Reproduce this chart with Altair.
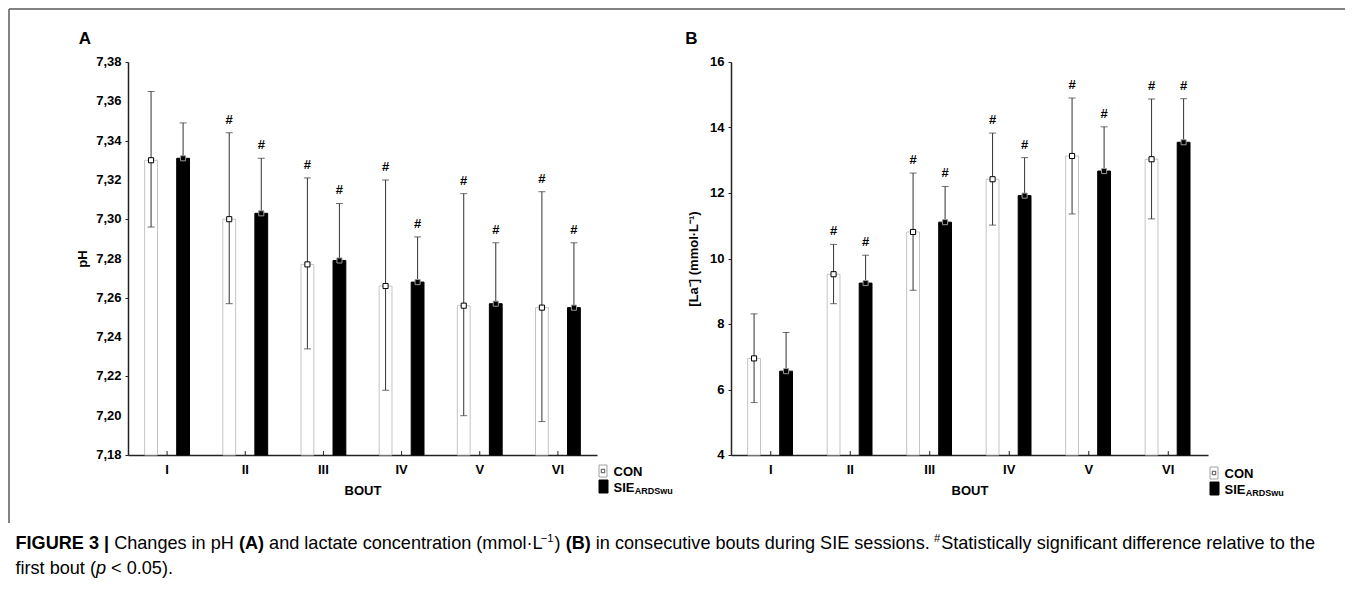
import altair as alt
import pandas as pd

# ---------------- data ----------------
bouts = ["I", "II", "III", "IV", "V", "VI"]
groups = ["CON", "SIE"]

ph_con_mean = [7.330, 7.300, 7.277, 7.266, 7.256, 7.255]
ph_con_upper = [7.365, 7.344, 7.321, 7.320, 7.313, 7.314]
ph_con_lower = [7.296, 7.257, 7.234, 7.213, 7.200, 7.197]
ph_sie_mean = [7.331, 7.303, 7.279, 7.268, 7.257, 7.255]
ph_sie_upper = [7.349, 7.331, 7.308, 7.291, 7.288, 7.288]

la_con_mean = [6.95, 9.52, 10.81, 12.42, 13.13, 13.03]
la_con_upper = [8.31, 10.43, 12.61, 13.83, 14.90, 14.87]
la_con_lower = [5.60, 8.62, 9.03, 11.02, 11.36, 11.21]
la_sie_mean = [6.56, 9.25, 11.11, 11.92, 12.67, 13.55]
la_sie_upper = [7.74, 10.10, 12.20, 13.08, 14.02, 14.88]

sig_con = [False, True, True, True, True, True]
sig_sie = [False, True, True, True, True, True]

ph_ticks = [7.18, 7.20, 7.22, 7.24, 7.26, 7.28, 7.30, 7.32, 7.34, 7.36, 7.38]
ph_tick_labels = ["7,18", "7,20", "7,22", "7,24", "7,26", "7,28", "7,30", "7,32",
                  "7,34", "7,36", "7,38"]
la_ticks = [4, 6, 8, 10, 12, 14, 16]
la_tick_labels = ["4", "6", "8", "10", "12", "14", "16"]

FONT = "Liberation Sans"
CAP_FONT = "Liberation Sans"


def panel_df(cm, cu, cl, sm, su):
    rows = []
    for i, b in enumerate(bouts):
        rows.append(dict(bout=b, group="CON", mean=cm[i], upper=cu[i], lower=cl[i], sig=sig_con[i]))
        rows.append(dict(bout=b, group="SIE", mean=sm[i], upper=su[i], lower=sm[i], sig=sig_sie[i]))
    return pd.DataFrame(rows)


DUMMY = alt.Data(values=[{"k": 1}])


def txt(text, x, y, size, weight="normal", style="normal", align="left",
        baseline="alphabetic", font=FONT):
    return alt.Chart(DUMMY).mark_text(
        text=text, x=x, y=y, fontSize=size, fontWeight=weight, fontStyle=style,
        align=align, baseline=baseline, font=font, color="black"
    ).encode(opacity=alt.value(1))


def rect(x1, x2, y1, y2, fill, stroke):
    return alt.Chart(DUMMY).mark_rect(fill=fill, stroke=stroke, strokeWidth=1).encode(
        x=alt.value(x1), x2=alt.value(x2), y=alt.value(y1), y2=alt.value(y2))


def legend(lx, ly):
    # lx: swatch left, ly: CON swatch top (pixels relative to plot)
    return [
        rect(lx, lx + 8, ly, ly + 12, "white", "#a0a0a0"),
        alt.Chart(DUMMY).mark_point(shape="square", size=12, filled=False, color="black",
                                    strokeWidth=1).encode(x=alt.value(lx + 4), y=alt.value(ly + 6)),
        txt("CON", lx + 14.5, ly + 6.5, 13, "bold", baseline="middle"),
        rect(lx, lx + 9, ly + 15, ly + 28, "black", "black"),
        txt("SIE", lx + 14.5, ly + 22.5, 13, "bold", baseline="middle"),
        txt("ARDSwu", lx + 14.5 + 21.2, ly + 28.5, 9, "bold", baseline="alphabetic"),
    ]


def panel(df, ymin, ymax, yvals, ylabels, ytitle, title_pad, leg_x, leg_y):
    base = alt.Chart(df)
    yscale = alt.Scale(domain=[ymin, ymax], zero=False, nice=False)
    xs = alt.X("bout:N", sort=bouts,
               scale=alt.Scale(paddingInner=0, paddingOuter=0),
               axis=alt.Axis(title="BOUT", labelAngle=0, ticks=False, labelPadding=8,
                             titlePadding=8, labelFontSize=13, labelFontWeight="bold",
                             titleFontSize=13, titleFontWeight="bold", domainColor="#222",
                             domainWidth=1.5, labelColor="black", titleColor="black"))
    xo = alt.XOffset("group:N", sort=groups,
                     scale=alt.Scale(domain=groups, paddingInner=0.6, paddingOuter=0.52))
    yaxis = alt.Axis(values=yvals, title=ytitle, labels=False, tickSize=3,
                     titlePadding=title_pad, grid=False,
                     titleFontSize=13, titleFontWeight="bold",
                     domainColor="#222", domainWidth=1.5, tickColor="#222",
                     titleColor="black")

    def Y(field):
        return alt.Y(field, scale=yscale, axis=yaxis, title=ytitle)

    con = base.transform_filter("datum.group == 'CON'")
    sie = base.transform_filter("datum.group == 'SIE'")

    bars_con = con.mark_bar(fill="white", stroke="#c4c4c4", strokeWidth=1).encode(
        x=xs, xOffset=xo, y=Y("mean:Q"), y2=alt.datum(ymin))
    bars_sie = sie.mark_bar(fill="black", stroke="black", strokeWidth=1).encode(
        x=xs, xOffset=xo, y=Y("mean:Q"), y2=alt.datum(ymin))
    whisk = base.mark_rule(color="#333", strokeWidth=1).encode(
        x=xs, xOffset=xo, y=Y("lower:Q"), y2="upper:Q")
    cap_u = base.mark_tick(color="#333", thickness=1, size=7).encode(
        x=xs, xOffset=xo, y=Y("upper:Q"))
    cap_l = con.mark_tick(color="#333", thickness=1, size=7).encode(
        x=xs, xOffset=xo, y=Y("lower:Q"))
    pt_con = con.mark_point(shape="square", size=26, filled=True, fill="white",
                            stroke="black", strokeWidth=1, opacity=1).encode(
        x=xs, xOffset=xo, y=Y("mean:Q"))
    pt_sie = sie.mark_point(shape="square", size=26, filled=True, fill="black",
                            stroke="#9a9a9a", strokeWidth=1, opacity=1).encode(
        x=xs, xOffset=xo, y=Y("mean:Q"))
    hashes = base.transform_filter("datum.sig").mark_text(
        text="#", dy=-13, fontSize=13, fontWeight="bold", baseline="middle", color="black"
    ).encode(x=xs, xOffset=xo, y=Y("upper:Q"))
    cat_ticks = alt.Chart(pd.DataFrame({"bout": bouts})).mark_rule(
        color="#222", strokeWidth=1, y2Offset=-4).encode(
        x=alt.X("bout:N", sort=bouts), y=alt.datum(ymin), y2=alt.datum(ymin))
    ylab = alt.Chart(pd.DataFrame({"v": yvals, "lab": ylabels})).mark_text(
        align="right", baseline="middle", dx=-6.5, fontSize=13, fontWeight="bold",
        color="black").encode(x=alt.value(0), y=Y("v:Q"), text="lab:N")

    layers = [bars_con, bars_sie, whisk, cap_u, cap_l, pt_con, pt_sie, hashes, cat_ticks, ylab]
    layers += legend(leg_x, leg_y)
    return layers


# ---------------- caption (text layout with Arial-compatible metrics) ----------------
REG = {' ': 278, '.': 278, ',': 278, '(': 333, ')': 333, '#': 556, '<': 584, '·': 278,
       '−': 584, '|': 260, '-': 333, '0': 556, '1': 556, '3': 556, '5': 556,
       'a': 556, 'b': 556, 'c': 500, 'd': 556, 'e': 556, 'f': 278, 'g': 556, 'h': 556,
       'i': 222, 'j': 222, 'k': 500, 'l': 222, 'm': 833, 'n': 556, 'o': 556, 'p': 556,
       'q': 556, 'r': 333, 's': 500, 't': 278, 'u': 556, 'v': 500, 'w': 722, 'x': 500,
       'y': 500, 'z': 500, 'A': 667, 'B': 667, 'C': 722, 'E': 667, 'H': 722, 'I': 278,
       'L': 556, 'S': 667}
BOLD = {' ': 278, 'F': 611, 'I': 278, 'G': 778, 'U': 722, 'R': 722, 'E': 667, '3': 556,
        '|': 280, '(': 333, ')': 333, 'A': 722, 'B': 722}


def tw(s, kind):
    table = BOLD if kind == "b" else REG
    return sum(table.get(ch, 556) for ch in s) / 1000.0


line1 = [("FIGURE 3 | ", "b"), ("Changes in pH ", "r"), ("(A)", "b"),
         (" and lactate concentration (mmol·L", "r"), ("−1", "sup"), (") ", "r"),
         ("(B)", "b"), (" in consecutive bouts during SIE sessions. ", "r"), ("#", "sup"),
         ("Statistically significant difference relative to the", "r")]
line2 = [("first bout (", "r"), ("p", "i"), (" < 0.05).", "r")]

SUP = 0.62


def seg_width(s, kind, size):
    return tw(s, kind) * (size * SUP if kind == "sup" else size)


unit = sum(seg_width(s, k, 1.0) for s, k in line1)
CAP_SIZE = 1300.0 / unit

OX, OY = 127.5, 61.5  # page position of panel A plot origin


def caption_layers(segs, x0, base_y):
    out = []
    x = x0 - OX
    for s, k in segs:
        lead = len(s) - len(s.lstrip(" "))
        shown = s.strip(" ")
        sz = CAP_SIZE * SUP if k == "sup" else CAP_SIZE
        xd = x + seg_width(" " * lead, k, CAP_SIZE)
        if k == "sup":
            out.append(txt(shown, xd - 1, base_y - OY - CAP_SIZE * 0.38, sz, font=CAP_FONT))
        elif k == "b":
            out.append(txt(shown, xd, base_y - OY, sz, "bold", font=CAP_FONT))
        elif k == "i":
            out.append(txt(shown, xd, base_y - OY, sz, style="italic", font=CAP_FONT))
        else:
            out.append(txt(shown, xd, base_y - OY, sz, font=CAP_FONT))
        x += seg_width(s, k, CAP_SIZE)
    return out


# ---------------- panels ----------------
df_ph = panel_df(ph_con_mean, ph_con_upper, ph_con_lower, ph_sie_mean, ph_sie_upper)
df_la = panel_df(la_con_mean, la_con_upper, la_con_lower, la_sie_mean, la_sie_upper)

layers_a = panel(df_ph, 7.18, 7.38, ph_ticks, ph_tick_labels, "pH", 35, 471, 403)
layers_a.append(txt("A", -43, -23.5, 17, "bold", align="center", baseline="middle"))
# figure frame (top and left edges)
layers_a.append(alt.Chart(DUMMY).mark_rule(color="#5a5a5a", strokeWidth=1.5).encode(
    x=alt.value(-119), y=alt.value(-53), y2=alt.value(461)))
layers_a.append(alt.Chart(DUMMY).mark_rule(color="#5a5a5a", strokeWidth=1.5).encode(
    x=alt.value(-119), x2=alt.value(1217), y=alt.value(-53)))
layers_a += caption_layers(line1, 15, 548)
layers_a += caption_layers(line2, 15, 573)

layers_b = panel(df_la, 4, 16, la_ticks, la_tick_labels, "[La⁻] (mmol·L⁻¹)", 27, 479, 405)
layers_b.append(txt("B", -39.5, -23.5, 17, "bold", align="center", baseline="middle"))

chart_a = alt.layer(*layers_a).properties(width=469, height=393)
chart_b = alt.layer(*layers_b).properties(width=477, height=393)

chart = alt.hconcat(chart_a, chart_b, spacing=134, bounds="flush").properties(
    padding={"left": 0, "top": 0, "right": 0, "bottom": 0}
).configure(font=FONT).configure_view(strokeWidth=0)

chart.save("out.html", embed_options={"renderer": "svg", "actions": False})
